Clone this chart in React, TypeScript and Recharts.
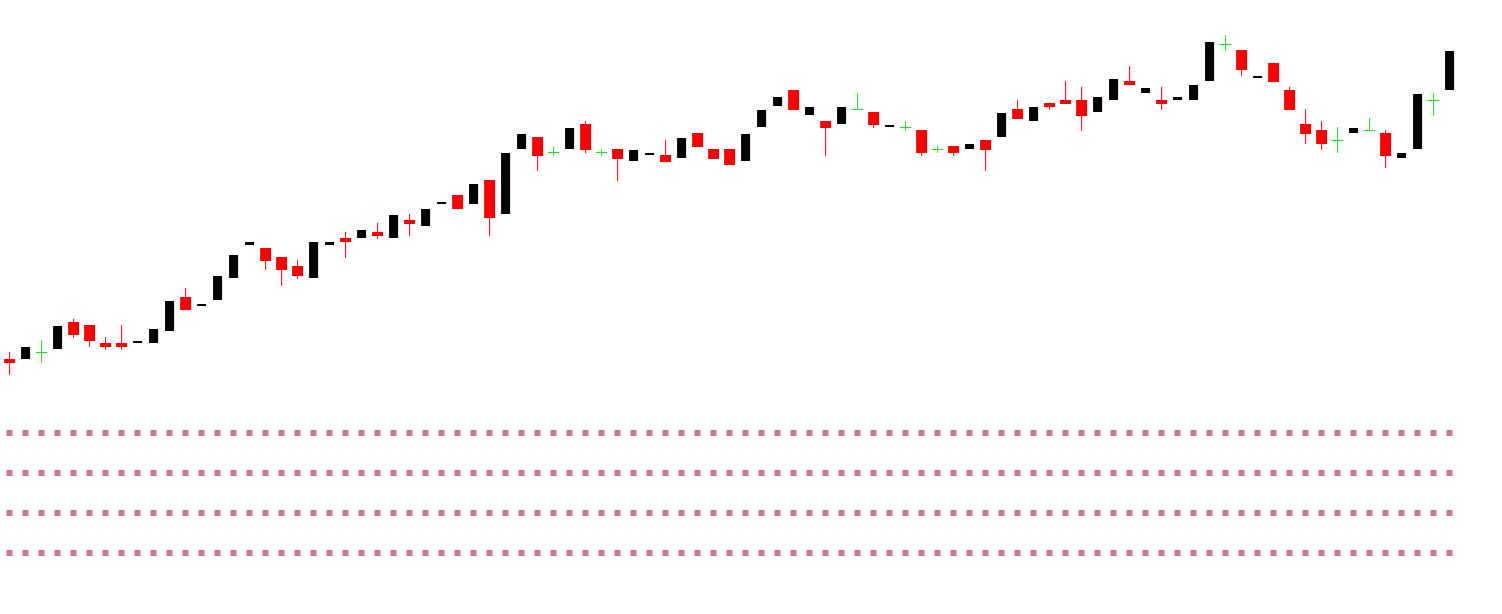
import { Bar, ComposedChart, ReferenceLine, XAxis, YAxis } from 'recharts';

// prices, one entry per candle
const opens = [
  255, 255, 262, 265, 292, 289, 271, 271, 271, 271, 283, 317, 308, 314, 336, 369,
  366, 357, 348, 336, 369, 376, 376, 382, 376, 394, 388, 410, 419, 410, 434, 400,
  465, 477, 462, 465, 490, 462, 465, 453, 459, 459, 456, 481, 465, 465, 453, 487,
  508, 524, 499, 493, 490, 505, 502, 487, 487, 484, 465, 468, 465, 474, 477, 505,
  493, 511, 514, 514, 502, 514, 533, 521, 514, 514, 514, 533, 570, 564, 536, 551,
  524, 490, 484, 474, 481, 484, 481, 456, 465, 514, 524,
];
const highs = [
  262, 267, 274, 288, 295, 289, 277, 289, 273, 285, 313, 326, 310, 338, 359, 372,
  366, 357, 354, 372, 372, 382, 384, 391, 399, 400, 405, 412, 419, 430, 434, 461,
  480, 477, 468, 486, 493, 465, 465, 464, 461, 474, 476, 481, 465, 465, 480, 504,
  517, 524, 507, 493, 507, 521, 502, 489, 493, 484, 468, 468, 470, 474, 501, 514,
  507, 511, 533, 527, 517, 535, 548, 526, 527, 517, 529, 572, 579, 564, 538, 551,
  527, 505, 493, 487, 486, 496, 484, 461, 520, 521, 563,
];
const lows = [
  239, 255, 251, 265, 276, 267, 264, 264, 271, 271, 283, 304, 308, 314, 336, 369,
  344, 328, 335, 336, 369, 356, 376, 375, 376, 378, 388, 410, 405, 410, 378, 400,
  465, 443, 458, 465, 461, 458, 433, 453, 459, 452, 456, 467, 455, 449, 453, 487,
  508, 504, 499, 458, 490, 505, 486, 487, 483, 458, 461, 458, 465, 443, 477, 495,
  493, 504, 510, 483, 502, 514, 529, 521, 504, 514, 514, 533, 563, 538, 536, 532,
  504, 470, 464, 461, 481, 484, 446, 456, 465, 498, 524,
];
const closes = [
  251, 267, 262, 288, 279, 273, 267, 267, 273, 285, 313, 304, 310, 338, 359, 372,
  353, 344, 338, 372, 372, 372, 384, 378, 399, 390, 405, 412, 405, 430, 396, 461,
  480, 458, 462, 486, 464, 462, 455, 464, 461, 452, 476, 467, 455, 449, 480, 504,
  517, 504, 507, 486, 507, 505, 489, 489, 487, 461, 465, 461, 470, 464, 501, 495,
  507, 507, 510, 498, 517, 535, 529, 526, 510, 517, 529, 572, 570, 544, 538, 532,
  504, 480, 470, 474, 486, 484, 458, 461, 520, 514, 563,
];

// horizontal dotted levels under the candles
const levels = [181, 141, 101, 61];

const data = opens.map((o, i) => ({
  idx: i + 1,
  open: o,
  high: highs[i],
  low: lows[i],
  close: closes[i],
  range: [lows[i], highs[i]],
}));

const Candle = (props: any) => {
  const { x, width, y, height, payload } = props;
  const { open, close, high, low } = payload;
  const cx = x + width / 2;
  const k = high > low ? height / (high - low) : 1;
  const yOf = (v: number) => y + (high - v) * k;

  if (close > open) {
    return (
      <rect
        x={cx - 4.5}
        y={yOf(close)}
        width={9}
        height={yOf(open) - yOf(close)}
        fill='#000000'
      />
    );
  }
  if (close < open) {
    return (
      <g>
        <rect x={cx - 0.5} y={yOf(high)} width={1} height={yOf(low) - yOf(high)} fill='#ff0000' />
        <rect x={cx - 5.5} y={yOf(open)} width={11} height={yOf(close) - yOf(open)} fill='#ff0000' />
      </g>
    );
  }
  return (
    <g>
      <rect x={cx - 0.5} y={yOf(high)} width={1} height={yOf(low) - yOf(high)} fill='#22e022' />
      <rect x={cx - 5.5} y={yOf(open)} width={11} height={1} fill='#22e022' />
    </g>
  );
};

export default function App() {
  return (
    <div
      style={{
        position: 'absolute',
        left: 0,
        top: 0,
        width: 1502,
        height: 614,
        background: '#ffffff',
      }}>
      <ComposedChart
        width={1502}
        height={614}
        data={data}
        margin={{ top: 0, right: 44.5, bottom: 0, left: 1.5 }}>
        <XAxis dataKey='idx' hide />
        <YAxis type='number' domain={[0, 614]} hide />
        {levels.map((lvl) => (
          <ReferenceLine
            key={lvl}
            y={lvl}
            stroke='#DB7093'
            strokeWidth={6}
            strokeDasharray='0 5 6 5'
          />
        ))}
        <Bar dataKey='range' shape={<Candle />} isAnimationActive={false} />
      </ComposedChart>
    </div>
  );
}
